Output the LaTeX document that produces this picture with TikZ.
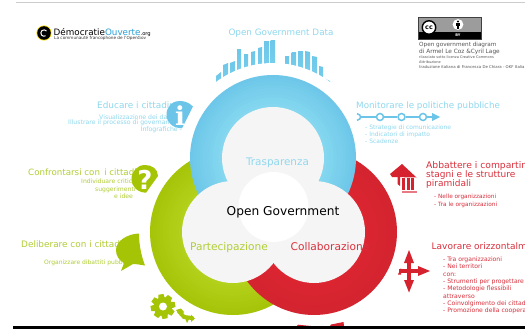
\documentclass[tikz,border=0pt]{standalone}
\usepackage{fontspec}
\setmainfont{DejaVu Sans}
\newfontfamily\seriffam{DejaVu Serif}
\definecolor{bluetxt}{HTML}{8FD8EE}
\definecolor{greentxt}{HTML}{B0CE35}
\definecolor{redtxt}{HTML}{D9303C}
\definecolor{blueA}{HTML}{6EC7E9}
\definecolor{blueB}{HTML}{86D9F0}
\definecolor{greenA}{HTML}{A6C408}
\definecolor{greenB}{HTML}{B4D21C}
\definecolor{redA}{HTML}{D3242F}
\definecolor{redB}{HTML}{DC2632}
\definecolor{disc}{HTML}{F5F5F5}
\definecolor{iconblue}{HTML}{6CC5E8}
\definecolor{icongreen}{HTML}{A6C406}
\definecolor{iconred}{HTML}{D6222E}
\definecolor{credit}{HTML}{555555}
\tikzset{
  txt/.style={anchor=base west,inner sep=0pt,font=\fontsize{#1}{#1}\selectfont},
  txtc/.style={anchor=base,inner sep=0pt,font=\fontsize{#1}{#1}\selectfont},
  barshape/.style={top color=blueA,bottom color=blueB},
  pipe/.style={circle,draw=iconblue,line width=1.5pt,fill=white,minimum size=7pt,inner sep=0pt}
}
\newcommand{\ringfill}[5]{%
  \foreach \k in {0,...,10}{%
    \pgfmathsetmacro{\rr}{#3-3.2*\k}
    \pgfmathsetmacro{\mixv}{min(100,\k*10)}
    \fill[#5!\mixv!#4] (#1,#2) circle (\rr);
  }%
}
\begin{document}
\begin{tikzpicture}[x=1pt,y=-1pt]
\useasboundingbox (0,0) rectangle (525,329);
\fill[white] (0,0) rectangle (525,329);
% frame strips
\fill[black!20] (16,1.7) rectangle (525,3);
% bars
\foreach \a/\b/\c/\d in {216/221/76/72,223/228/65/63,230/235/63/61,237/241/50/50,244/248/55/55,251/255/52/51,258/262/48/47,264/269/42/42,270.5/275/41/41,285/289/57/57,291.5/296/53/53,298/303/52/52,305/310/51/52,312/317/56/57,319/323/66/67,325.5/330/79/81}{
  \shade[barshape] (\a,\c) -- (\b,\d) -- (\b,110) -- (\a,110) -- cycle;
}
\fill[white] (273,158) circle (95);
% rings
\ringfill{233}{232}{83}{greenA}{greenB}
\ringfill{314}{232}{83}{redA}{redB}
\ringfill{273}{158}{83}{blueA}{blueB}
% inner discs
\fill[disc] (273,158) circle (51);
\fill[disc] (233,232) circle (51);
\fill[disc] (314,232) circle (51);
\fill[white] (273.5,207) circle (35);
% centre labels
\node[txtc=10.4,text=bluetxt] (transp) at (277.5,165) {Trasparenza};
\node[txtc=12.2,text=black] (og) at (283,215) {Open Government};
\node[txtc=10.6,text=greentxt] (part) at (229,250) {Partecipazione};
\node[txtc=10.6,text=redtxt] (coll) at (330,250) {Collaborazione};
% top title
\node[txtc=8.8,text=bluetxt] (ogd) at (281,36) {Open Government Data};
% logo
\fill[yellow!80!orange] (44,33) circle (7.6);
\fill[black] (44,33) circle (6.8);
\draw[white,line width=1pt] (46.5,31) arc[start angle=-40,end angle=-300,radius=3.2];
\node[txt=8.8,text=black] (logoa) at (53.5,35.5) {Démocratie\textcolor[HTML]{2A9FD6}{Ouverte}{\fontsize{5.2}{5.2}\selectfont.org}};
\node[txt=4.2,text=black!80] (logob) at (54,40) {La communauté francophone de l'OpenGov};
% Educare
\node[txt=8.9,text=bluetxt] (edu) at (97,108) {Educare i cittadini};
\node[txt=6.2,text=bluetxt] (edu1) at (99,119) {Visualizzazione dei dati};
\node[txt=6.2,text=bluetxt] (edu2) at (68,124.5) {Illustrare il processo di governance};
\node[txt=6.2,text=bluetxt] (edu3) at (140.5,131.5) {Infografiche -};
\fill[iconblue] (193,106.5) .. controls (188,101.5) and (183,101) .. (179,101)
  .. controls (172,101) and (166.5,107) .. (166.5,114.5)
  .. controls (166.5,122) and (172,128) .. (182,128.3) -- cycle;
\node[txtc=26,text=white,font=\seriffam\bfseries\fontsize{26}{26}\selectfont] (infoi) at (180,125) {i};
% Monitorare
\node[txt=8.75,text=bluetxt] (mon) at (356,108) {Monitorare le politiche pubbliche};
\coordinate (pend) at (432,117);
\node[pipe] (p1) at (380,117) {};
\node[pipe] (p2) at (401.5,117) {};
\node[pipe] (p3) at (423,117) {};
\draw[iconblue,line width=1.5pt] (357,113.7) .. controls (359.5,114) and (360.5,115.5) .. (360.5,117) .. controls (360.5,118.5) and (359.5,120) .. (357,120.3);
\draw[iconblue,line width=1.7pt] (360.5,117) -- (p1) (p1) -- (p2) (p2) -- (p3) (p3) -- (pend);
\fill[iconblue] (432,113) -- (440,117) -- (432,121) -- cycle;
\node[txt=6,text=bluetxt] (m1) at (365,129.5) {- Strategie di comunicazione};
\node[txt=6,text=bluetxt] (m2) at (365,136) {- Indicatori di impatto};
\node[txt=6,text=bluetxt] (m3) at (365,143) {- Scadenze};
% CC badge
\fill[black!30!gray!60] (418.5,17) rectangle (481,39);
\fill[black] (418.5,32) rectangle (481,39);
\draw[black!75,line width=.6pt] (418.5,17) rectangle (481,39);
\node[circle,draw=black,line width=1.4pt,fill=white,minimum size=13.5pt,inner sep=0pt,font=\bfseries\fontsize{6.4}{6.4}\selectfont] (cc) at (429,27.5) {cc};
\fill[white] (458,24.5) circle (5.4);
\fill[black] (458,21.5) circle (1.2);
\fill[black] (456,23.3) rectangle (460,26.5);
\fill[black] (457,26.5) rectangle (459,29);
\node[txtc=3.6,text=white] (by) at (458,37) {\bfseries BY};
\node[txt=5.7,text=credit] (c1) at (419,47) {Open government diagram};
\node[txt=5.8,text=credit] (c2) at (419,54) {di Armel Le Coz \&Cyril Lage};
\node[txt=3.55,text=credit] (c3) at (419,59) {rilasciato sotto  licenza Creative Commons};
\node[txt=3.55,text=credit] (c4) at (419,63.5) {Attribuzione};
\node[txt=3.9,text=credit] (c5) at (419,68.5) {traduzione italiana di Francesca De Chiara - OKF Italia};
% Confrontarsi
\node[txt=8.7,text=greentxt] (conf) at (28,175) {Confrontarsi con\, i cittadini};
\node[txt=6.1,text=greentxt] (co1) at (81,183) {Individuare criticità};
\node[txt=6.1,text=greentxt] (co2) at (95,191) {suggerimenti};
\node[txt=6.1,text=greentxt] (co3) at (114,198) {e idee};
\fill[icongreen] (158,176) .. controls (158,169) and (152,165) .. (145,165)
  .. controls (137.5,165) and (131.5,171) .. (131.5,179)
  .. controls (131.5,187) and (138,192.5) .. (146,192.7) -- cycle;
\node[txtc=26,text=white,font=\bfseries\fontsize{26}{26}\selectfont] (qm) at (145,189.5) {?};
% Deliberare
\node[txt=8.9,text=greentxt] (del) at (21,247) {Deliberare con i cittadini};
\node[txt=6,text=greentxt] (del1) at (44,264) {Organizzare dibattiti pubblici};
\fill[icongreen] (139,233.5) .. controls (127,234) and (116,241) .. (116,250)
  .. controls (116,256) and (119,260) .. (124,263) -- (121,271) -- (133,264)
  .. controls (137,264) and (141,265) .. (145,265.5)
  .. controls (141,255) and (139,244) .. (139,233.5) -- cycle;
% Gear
\begin{scope}[shift={(163,306.5)}]
  \foreach \r in {0,45,...,315}{
    \fill[icongreen,rotate=\r+10] (-2.6,-12.3) -- (2.6,-12.3) -- (3.4,-7) -- (-3.4,-7) -- cycle;
  }
  \fill[icongreen] (0,0) circle (9.4);
  \fill[white] (0,0) circle (4);
\end{scope}
\draw[icongreen,line width=4pt,line cap=round] (179,311.5) -- (184,317) -- (192,318);
\fill[icongreen] (176,310) -- (181,308.5) -- (184,312) -- (181,315) -- cycle;
\fill[icongreen] (187,323) -- (184,316) -- (190,317) -- cycle;
\fill[icongreen] (191,314.5) -- (195,318.5) -- (191,322) -- cycle;
% Building
\fill[iconred] (402,164) -- (416.5,177.5) -- (392,177) -- (390,174) -- cycle;
\fill[iconred] (397.5,177) -- (400,177) -- (400,186) -- (397.5,184) -- cycle;
\fill[iconred] (402,178) rectangle (405,190);
\fill[iconred] (407,178) rectangle (409.7,190);
\fill[iconred] (411.3,178) rectangle (414.2,190);
\fill[iconred!60!white] (401.5,191) rectangle (417,193.3);
\node[txt=9.2,text=redtxt] (ab1) at (426,168.5) {Abbattere i compartimenti};
\node[txt=9,text=redtxt] (ab2) at (426,177.5) {stagni e le strutture};
\node[txt=9,text=redtxt] (ab3) at (426,186.5) {piramidali};
\node[txt=5.8,text=redtxt] (ab4) at (434,198) {- Nelle organizzazioni};
\node[txt=5.8,text=redtxt] (ab5) at (434,206) {- Tra le organizzazioni};
% Cross arrows
\fill[iconred] (407,262) rectangle (411,281);
\fill[iconred] (399,269) rectangle (420,273);
\fill[iconred] (409,250) -- (414,263) -- (404,263) -- cycle;
\fill[iconred] (409,292.5) -- (404,280) -- (414,280) -- cycle;
\fill[iconred] (430,271) -- (418,266) -- (418,276) -- cycle;
\fill[iconred] (398,274.5) -- (401,268) -- (401,274.5) -- cycle;
\node[txt=9,text=redtxt] (lav) at (431.5,249.5) {Lavorare orizzontalmente};
\node[txt=6.1,text=redtxt] (l1) at (443,261) {- Tra organizzazioni};
\node[txt=6.1,text=redtxt] (l2) at (443,268) {- Nei territori};
\node[txt=6.1,text=redtxt] (l3) at (443,276) {con:};
\node[txt=6.1,text=redtxt] (l4) at (443,283) {- Strumenti per progettare};
\node[txt=6.1,text=redtxt] (l5) at (443,290.5) {- Metodologie flessibili};
\node[txt=6.1,text=redtxt] (l6) at (443,298) {attraverso};
\node[txt=6.1,text=redtxt] (l7) at (443,305) {- Coinvolgimento dei cittadini};
\node[txt=6.1,text=redtxt] (l8) at (443,312.5) {- Promozione della cooperazione};
% bottom red fragments
\fill[iconred] (297,326) -- (298,324.7) -- (311,326) -- cycle;
\fill[iconred] (330,326) -- (331,324.5) -- (343.5,322) -- (344,326) -- cycle;
% bottom strip
\fill[black] (13,326) rectangle (525,329);
\end{tikzpicture}
\end{document}
